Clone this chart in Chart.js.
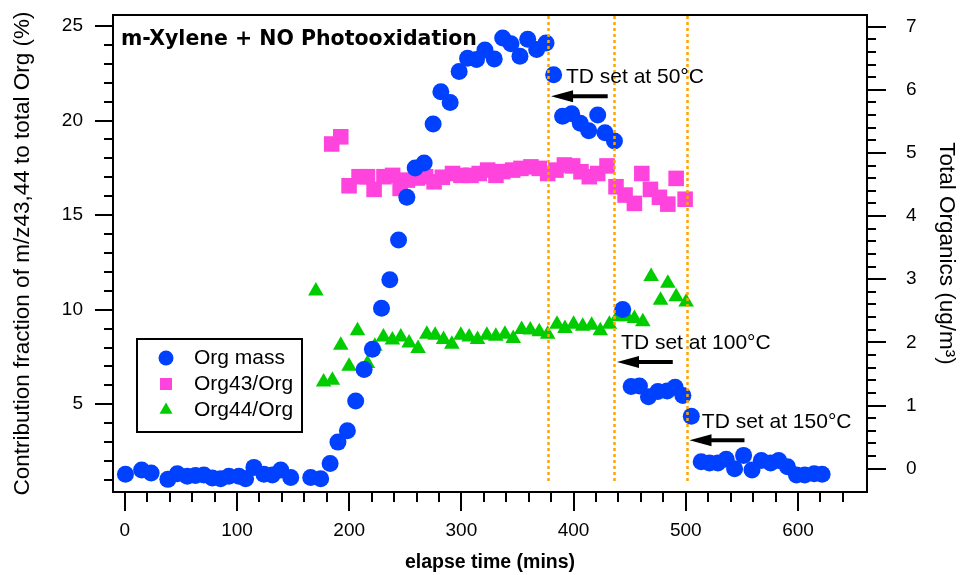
<!DOCTYPE html>
<html>
<head>
<meta charset="utf-8">
<script src="https://cdn.jsdelivr.net/npm/chart.js@4.4.1/dist/chart.umd.min.js"></script>
<style>
  html, body { margin: 0; padding: 0; background: #ffffff; }
  #c { display: block; }
</style>
</head>
<body>
<canvas id="c" width="969" height="575"></canvas>
<script>
// ---------- DATA ----------
const chartTitle = "m-Xylene + NO Photooxidation";
const seriesNames = ["Org mass", "Org43/Org", "Org44/Org"];

// Org mass (right axis, ug/m3)
const orgTime = [0.6, 15, 23.5, 38.4, 46.8, 55.7, 63, 70.5, 78, 85.4, 92.8, 101.7, 107.7, 115.1, 124, 131.5, 139, 147.9, 165.7, 174.6, 183, 190, 198.4, 205.8, 213.3, 220.7, 228.8, 236.2, 244, 251.4, 258.8, 266.8, 274.8, 281.7, 290, 298, 305.5, 313.5, 321, 329.3, 336.8, 344.2, 352.2, 359.1, 367.1, 375.4, 382.2, 390.2, 398.3, 406, 413.5, 421.5, 428, 436.4, 443.8, 451.3, 458.7, 466.7, 475.1, 483.4, 490.5, 497.4, 504.9, 513.7, 521.1, 528.6, 536, 543.5, 551.5, 559, 567.3, 575.6, 582.8, 590.6, 598.6, 606, 614.4, 621.5];
const orgMass = [-0.09, -0.02, -0.07, -0.17, -0.08, -0.12, -0.11, -0.10, -0.15, -0.16, -0.12, -0.12, -0.16, 0.02, -0.09, -0.10, -0.02, -0.14, -0.14, -0.16, 0.08, 0.42, 0.60, 1.07, 1.57, 1.89, 2.54, 2.99, 3.62, 4.30, 4.76, 4.84, 5.46, 5.97, 5.80, 6.29, 6.50, 6.48, 6.63, 6.49, 6.82, 6.73, 6.53, 6.80, 6.64, 6.74, 6.24, 5.58, 5.62, 5.47, 5.35, 5.60, 5.32, 5.19, 2.52, 1.30, 1.31, 1.14, 1.22, 1.23, 1.29, 1.16, 0.83, 0.11, 0.09, 0.09, 0.15, 0.00, 0.21, -0.02, 0.13, 0.09, 0.13, 0.03, -0.10, -0.10, -0.08, -0.09];

// Org43/Org (left axis, %)
const org43Time = [184.4, 192.5, 199.9, 208.8, 216.3, 222.2, 231, 238.7, 245.4, 251.9, 260.7, 268.1, 275.7, 283, 292.1, 299.6, 308.5, 315.9, 323.4, 330.8, 336.8, 345.7, 353.1, 362, 369.4, 376.9, 384.3, 391.8, 399.2, 406.6, 414, 421.5, 429.8, 437.8, 445.9, 454.2, 460.8, 468.5, 476.5, 484, 491.4, 499.4];
const org43 = [18.76, 19.14, 16.55, 17.03, 17.03, 16.36, 17.03, 17.1, 16.41, 16.85, 16.96, 17.03, 16.76, 17.0, 17.2, 17.1, 17.1, 17.2, 17.38, 17.1, 17.3, 17.38, 17.47, 17.55, 17.47, 17.2, 17.38, 17.65, 17.6, 17.29, 17.03, 17.2, 17.6, 16.5, 16.06, 15.62, 17.2, 16.36, 15.94, 15.58, 16.94, 15.84];

// Org44/Org (left axis, %)
const org44Time = [170.3, 177.2, 185, 192.5, 199.9, 207.4, 216.3, 222.9, 230.5, 238.5, 246, 253.4, 261.4, 269.2, 276.6, 284.1, 291.5, 299.5, 306.9, 314.4, 322.7, 330.7, 338.8, 346.2, 353.7, 361.4, 369.4, 376.9, 385.2, 392.3, 400, 408.1, 416.1, 423.8, 431.9, 439.3, 447.6, 454.2, 461.7, 469.1, 477.5, 484, 491.4, 500.3];
const org44 = [10.99, 6.18, 6.27, 8.12, 7.01, 8.88, 7.15, 8.07, 8.56, 8.39, 8.56, 8.24, 7.95, 8.70, 8.65, 8.42, 8.17, 8.65, 8.56, 8.42, 8.65, 8.6, 8.7, 8.48, 8.95, 8.92, 8.83, 8.7, 9.23, 9.0, 9.23, 9.13, 9.18, 8.88, 9.23, 9.62, 9.62, 9.53, 9.36, 11.76, 10.5, 11.4, 10.68, 10.41];

// Tick labels
const xTickLabels = [0, 100, 200, 300, 400, 500, 600];
const yLeftTickLabels = [5, 10, 15, 20, 25];
const yRightTickLabels = [0, 1, 2, 3, 4, 5, 6, 7];

// Thermodenuder set-point changes (elapse time, mins) and annotations
const tdTimes = [377.5, 436.4, 500.9];
const tdLabels = ["TD set at 50°C", "TD set at 100°C", "TD set at 150°C"];
const tdLabelX = [393.2, 442.3, 514.3];      // mins
const tdLabelY = [6.2, 1.98, 0.73];          // right-axis units
const tdArrowFrom = [430.4, 488.4, 552.3];   // mins
const tdArrowTo = [379.9, 438.7, 503.3];     // mins
const tdArrowY = [5.90, 1.69, 0.45];         // right-axis units

// ---------- STYLE ----------
const BLUE = 'rgb(0,64,255)';
const PINK = 'rgb(255,68,221)';
const GREEN = 'rgb(0,204,0)';
const ORANGE = 'rgb(255,165,0)';
const FONT = '"Liberation Sans", Arial, sans-serif';

const pts = (xs, ys) => xs.map((x, i) => ({ x: x, y: ys[i] }));

const decor = {
  id: 'decor',
  afterDatasetsDraw(chart) {
    const ctx = chart.ctx;
    const xs = chart.scales.x, yr = chart.scales.y2;
    const a = chart.chartArea;
    ctx.save();
    // dotted orange lines
    ctx.strokeStyle = ORANGE;
    ctx.lineWidth = 2.5;
    ctx.setLineDash([3, 3]);
    tdTimes.forEach(t => {
      const px = Math.round(xs.getPixelForValue(t)) + 0.5;
      ctx.beginPath();
      ctx.moveTo(px, a.top + 1);
      ctx.lineTo(px, yr.getPixelForValue(-0.23));
      ctx.stroke();
    });
    ctx.setLineDash([]);
    // arrows
    ctx.fillStyle = '#000';
    ctx.strokeStyle = '#000';
    tdTimes.forEach((t, i) => {
      const x1 = xs.getPixelForValue(tdArrowFrom[i]);
      const x2 = xs.getPixelForValue(tdArrowTo[i]);
      const y = yr.getPixelForValue(tdArrowY[i]);
      const hl = 22, hh = 6;
      ctx.lineWidth = 4;
      ctx.beginPath();
      ctx.moveTo(x1, y);
      ctx.lineTo(x2 + hl - 2, y);
      ctx.stroke();
      ctx.beginPath();
      ctx.moveTo(x2, y);
      ctx.lineTo(x2 + hl, y - hh);
      ctx.lineTo(x2 + hl, y + hh);
      ctx.closePath();
      ctx.fill();
    });
    // annotation texts
    ctx.font = '21px ' + FONT;
    ctx.textAlign = 'left';
    ctx.textBaseline = 'middle';
    tdLabels.forEach((s, i) => {
      ctx.fillText(s, xs.getPixelForValue(tdLabelX[i]), yr.getPixelForValue(tdLabelY[i]));
    });
    // chart title
    ctx.font = 'bold 20.5px "DejaVu Sans", Verdana, sans-serif';
    ctx.fillText(chartTitle, a.left + 8, a.top + 25);
    // legend
    const lx = 137, ly = 339, lw = 165, lh = 93;
    ctx.fillStyle = '#fff';
    ctx.fillRect(lx, ly, lw, lh);
    ctx.lineWidth = 2;
    ctx.strokeStyle = '#000';
    ctx.strokeRect(lx, ly, lw, lh);
    const styles = [
      { ps: 'circle', r: 7.5, c: BLUE },
      { ps: 'rect', r: 8.5, c: PINK },
      { ps: 'triangle', r: 7.5, c: GREEN }
    ];
    seriesNames.forEach((n, i) => {
      const cy = 358 + i * 26;
      ctx.fillStyle = styles[i].c;
      ctx.strokeStyle = styles[i].c;
      Chart.helpers.drawPoint(ctx, { pointStyle: styles[i].ps, radius: styles[i].r, borderWidth: 0, rotation: 0 }, 166, cy);
      ctx.fillStyle = '#000';
      ctx.font = '21px ' + FONT;
      ctx.textBaseline = 'middle';
      ctx.fillText(n, 194, cy);
    });
    ctx.restore();
  },
  afterDraw(chart) {
    const ctx = chart.ctx;
    const a = chart.chartArea;
    const xs = chart.scales.x, yl = chart.scales.y, yr = chart.scales.y2;
    ctx.save();
    ctx.strokeStyle = '#000';
    ctx.lineWidth = 2;
    // frame
    ctx.strokeRect(a.left, a.top, a.right - a.left, a.bottom - a.top);
    ctx.beginPath();
    // x ticks
    for (let v = 0; v <= 640; v += 20) {
      const px = Math.round(xs.getPixelForValue(v));
      const len = (v % 100 === 0) ? 19 : 10;
      ctx.moveTo(px, a.bottom);
      ctx.lineTo(px, a.bottom + len);
    }
    // left ticks
    for (let v = 1; v <= 25; v += 1) {
      const py = Math.round(yl.getPixelForValue(v));
      const len = (v % 5 === 0) ? 18 : 9;
      ctx.moveTo(a.left, py);
      ctx.lineTo(a.left - len, py);
    }
    // right ticks
    for (let k = 0; k <= 35; k += 1) {
      const v = k / 5;
      const py = Math.round(yr.getPixelForValue(v));
      const len = (k % 5 === 0) ? 19 : 9;
      ctx.moveTo(a.right, py);
      ctx.lineTo(a.right + len, py);
    }
    ctx.stroke();
    ctx.restore();
  }
};

const fitV = w => s => { s.width = w; s.paddingTop = 0; s.paddingBottom = 0; };

new Chart(document.getElementById('c'), {
  type: 'scatter',
  data: {
    datasets: [
      { label: seriesNames[0], data: pts(orgTime, orgMass), yAxisID: 'y2',
        pointStyle: 'circle', pointRadius: 8.5, backgroundColor: BLUE, borderColor: BLUE, borderWidth: 0 },
      { label: seriesNames[1], data: pts(org43Time, org43), yAxisID: 'y',
        pointStyle: 'rect', pointRadius: 11, backgroundColor: PINK, borderColor: PINK, borderWidth: 0 },
      { label: seriesNames[2], data: pts(org44Time, org44), yAxisID: 'y',
        pointStyle: 'triangle', pointRadius: 9, backgroundColor: GREEN, borderColor: GREEN, borderWidth: 0 }
    ]
  },
  options: {
    responsive: false,
    animation: false,
    events: [],
    layout: { padding: { top: 15, left: 0, right: 0, bottom: 0 } },
    plugins: { legend: { display: false }, tooltip: { enabled: false }, title: { display: false } },
    scales: {
      x: {
        type: 'linear', position: 'bottom', min: -10.5, max: 661.5,
        afterFit: s => { s.height = 83; s.paddingLeft = 0; s.paddingRight = 0; },
        afterBuildTicks: s => { s.ticks = xTickLabels.map(v => ({ value: v })); },
        grid: { display: false, drawTicks: false },
        border: { display: false },
        ticks: { color: '#000', font: { family: FONT, size: 19 }, padding: 27, maxRotation: 0 },
        title: { display: true, text: 'elapse time (mins)', color: '#000',
                 font: { family: FONT, size: 19.5, weight: 'bold' }, padding: { top: 0, bottom: 1 } }
      },
      y: {
        type: 'linear', position: 'left', min: 0.36, max: 25.58,
        afterFit: fitV(113),
        afterBuildTicks: s => { s.ticks = yLeftTickLabels.map(v => ({ value: v })); },
        grid: { display: false, drawTicks: false },
        border: { display: false },
        ticks: { color: '#000', font: { family: FONT, size: 19 }, padding: 30 },
        title: { display: true, text: 'Contribution fraction of m/z43,44 to total Org (%)', color: '#000',
                 font: { family: FONT, size: 22.5 }, padding: { top: 9, bottom: 0 } }
      },
      y2: {
        type: 'linear', position: 'right', min: -0.37, max: 7.185,
        afterFit: fitV(102),
        afterBuildTicks: s => { s.ticks = yRightTickLabels.map(v => ({ value: v })); },
        grid: { display: false, drawTicks: false },
        border: { display: false },
        ticks: { color: '#000', font: { family: FONT, size: 19 }, padding: 39 },
        title: { display: true, text: 'Total Organics (ug/m³)', color: '#000',
                 font: { family: FONT, size: 22.5 }, padding: { top: 9, bottom: 0 } }
      }
    }
  },
  plugins: [decor]
});
</script>
</body>
</html>
